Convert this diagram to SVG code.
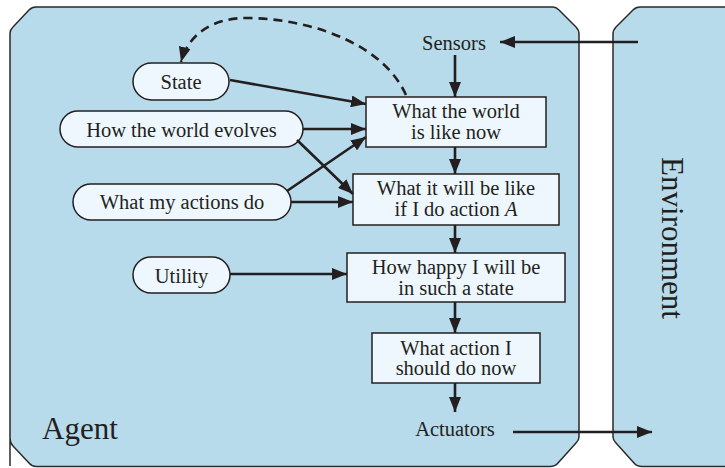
<svg xmlns="http://www.w3.org/2000/svg" width="725" height="468" viewBox="0 0 725 468">
<style>
.box{fill:#b8dbeb;stroke:#2b2a2a;stroke-width:1.5}
.node{fill:#eef7fd;stroke:#231f20;stroke-width:1.5}
.t{font-family:"Liberation Serif","Times New Roman",serif;font-size:20.5px;fill:#231f20;text-anchor:middle}
.big{font-family:"Liberation Serif","Times New Roman",serif;font-size:31px;fill:#231f20}
.c{stroke:#231f20;stroke-width:2.6;fill:none;marker-end:url(#ah)}
.d{stroke:#231f20;stroke-width:2.6;fill:none;stroke-dasharray:9 6;marker-end:url(#ah)}
</style>
<defs>
<marker id="ah" markerUnits="userSpaceOnUse" markerWidth="16" markerHeight="12" refX="15" refY="6" orient="auto">
<path d="M0,0 L15,6 L0,12 Z" fill="#231f20"/>
</marker>
</defs>
<rect width="725" height="468" fill="#ffffff"/>
<g id="agent">
<path class="box" d="M10,466 L10,33 Q10,30 13,27 L29,10 Q32,7 36,7 L553,7 Q556,7 559,10 L576,27 Q579,30 579,34 L579,437 Q579,440 576,443 L558,463 Q555,466.5 550,466.5 L36,466.5 Q32,466.5 29,463 L13,446 Q10,443 10,438 Z"/>
<text class="big" x="42" y="439">Agent</text>
</g>
<g id="environment">
<path class="box" d="M727,7 L640,7 Q636,7 633,10 L616,27 Q613,30 613,34 L613,437 Q613,440 616,443 L634,463 Q637,466.5 642,466.5 L727,466.5"/>
<text class="big" text-anchor="middle" transform="translate(662,238) rotate(90)">Environment</text>
</g>
<g id="sensors"><text class="t" x="454" y="50">Sensors</text></g>
<g id="actuators"><text class="t" x="455" y="436">Actuators</text></g>
<g id="state">
<rect class="node" x="133" y="63" width="96" height="37" rx="18.5"/>
<text class="t" x="181" y="89">State</text>
</g>
<g id="evolves">
<rect class="node" x="60" y="111" width="243" height="36" rx="18"/>
<text class="t" x="181.5" y="137">How the world evolves</text>
</g>
<g id="actions">
<rect class="node" x="73" y="184" width="218" height="36" rx="18"/>
<text class="t" x="182" y="209">What my actions do</text>
</g>
<g id="utility">
<rect class="node" x="133" y="257" width="97" height="36" rx="18"/>
<text class="t" x="181.5" y="283">Utility</text>
</g>
<g id="world">
<rect class="node" x="366" y="97" width="180" height="50"/>
<text class="t" x="456" y="118">What the world</text>
<text class="t" x="456" y="139">is like now</text>
</g>
<g id="will">
<rect class="node" x="353" y="174" width="206" height="51"/>
<text class="t" x="456" y="195">What it will be like</text>
<text class="t" x="456" y="216">if I do action <tspan font-style="italic">A</tspan></text>
</g>
<g id="happy">
<rect class="node" x="347" y="253" width="218" height="49"/>
<text class="t" x="456" y="274">How happy I will be</text>
<text class="t" x="456" y="295">in such a state</text>
</g>
<g id="decide">
<rect class="node" x="372" y="333" width="168" height="50"/>
<text class="t" x="456" y="355">What action I</text>
<text class="t" x="456" y="375">should do now</text>
</g>
<g id="connectors">
<line class="c" x1="638" y1="42" x2="500" y2="42"/>
<line class="c" x1="455" y1="55" x2="455" y2="97"/>
<line class="c" x1="455" y1="147" x2="455" y2="174"/>
<line class="c" x1="455" y1="225" x2="455" y2="253"/>
<line class="c" x1="455" y1="302" x2="455" y2="333"/>
<line class="c" x1="455" y1="383" x2="455" y2="412"/>
<line class="c" x1="513" y1="432" x2="652" y2="432"/>
<line class="c" x1="230" y1="80" x2="366" y2="104"/>
<line class="c" x1="303" y1="129" x2="366" y2="129"/>
<line class="c" x1="297" y1="140" x2="353" y2="194"/>
<line class="c" x1="287" y1="191" x2="366" y2="137"/>
<line class="c" x1="291" y1="202" x2="353" y2="202"/>
<line class="c" x1="230" y1="274" x2="347" y2="274"/>
<path class="d" d="M406,95 C385,48 320,20 250,18 C212,17 188,35 181,62"/>
</g>
</svg>
